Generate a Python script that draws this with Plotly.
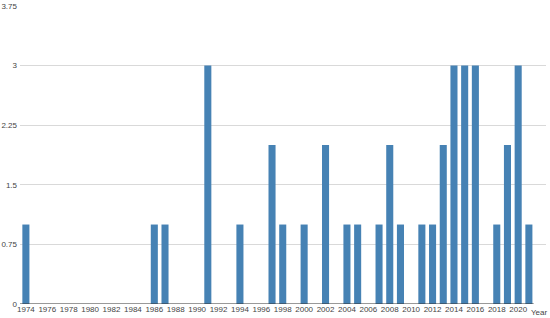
import plotly.graph_objects as go

years = [1974, 1986, 1987, 1991, 1994, 1997, 1998, 2000, 2002, 2004, 2005, 2007,
         2008, 2009, 2011, 2012, 2013, 2014, 2015, 2016, 2018, 2019, 2020, 2021]
counts = [1, 1, 1, 3, 1, 2, 1, 1, 2, 1, 1, 1,
          2, 1, 1, 1, 2, 3, 3, 3, 1, 2, 3, 1]
x_ticks = list(range(1974, 2021, 2))
y_ticks = [0, 0.75, 1.5, 2.25, 3, 3.75]
y_tick_labels = ["0", "0.75", "1.5", "2.25", "3", "3.75"]

fig = go.Figure(go.Bar(x=years, y=counts, width=0.66,
                       marker=dict(color="#4682B4", line=dict(width=0))))

x_end = 2021.45

fig.update_layout(
    width=550, height=318,
    margin=dict(l=20, r=4, t=6, b=14, autoexpand=False),
    plot_bgcolor="white", paper_bgcolor="white",
    font=dict(family="Liberation Sans, Arial", size=8, color="#444"),
    showlegend=False,
    xaxis=dict(range=[1973.45, 2022.6], tickmode="array", tickvals=x_ticks,
               ticktext=[str(t) for t in x_ticks], showgrid=False, zeroline=False,
               showline=False, ticks="", ticklen=0,
               automargin=False, ticklabelstandoff=-1,
               tickfont=dict(size=8, color="#444")),
    yaxis=dict(range=[0, 3.75], tickmode="array", tickvals=y_ticks, ticktext=y_tick_labels,
               showgrid=True, gridcolor="#d9d9d9", gridwidth=1, zeroline=False,
               showline=False, ticks="", automargin=False, ticklabelstandoff=2,
               tickfont=dict(size=8, color="#444")),
    shapes=[dict(type="line", xref="paper", yref="y", x0=0, x1=(x_end - 1973.45) / (2022.6 - 1973.45),
                 y0=0, y1=0, line=dict(color="#333", width=1))],
    annotations=[dict(text="Year", x=1, xref="paper", y=0, yref="paper",
                      xanchor="right", yanchor="top", xshift=3, yshift=-3, showarrow=False,
                      borderpad=0, font=dict(size=8, color="#444"))],
    bargap=0.3,
)

fig.write_html("out.html", config={"displayModeBar": False},
               post_script="document.body.style.margin='0';document.body.style.overflow='hidden';")
